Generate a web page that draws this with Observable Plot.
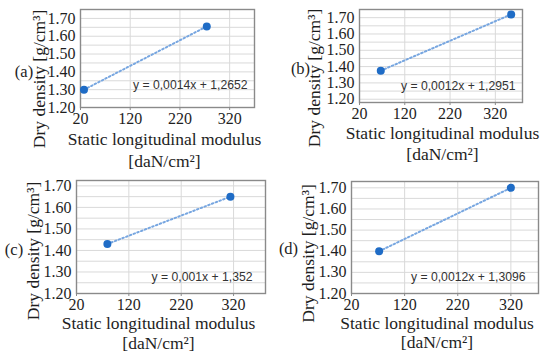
<!DOCTYPE html>
<html>
<head>
<meta charset="utf-8">
<script src="https://cdn.jsdelivr.net/npm/d3@7"></script>
<script src="https://cdn.jsdelivr.net/npm/@observablehq/plot@0.6"></script>
<style>
  html, body { margin: 0; padding: 0; background: #fff; }
  #chart { position: relative; width: 550px; height: 356px; overflow: hidden; }
  #chart svg { position: absolute; }
  #chart svg text { font-family: "Liberation Serif", "Times New Roman", serif; }
  #chart svg text.eq, #chart svg .eq text { font-family: "Liberation Sans", Arial, sans-serif; }
</style>
</head>
<body>
<div id="chart"></div>
<script>
// ---- data ----
const panelLabels = ["(a)", "(b)", "(c)", "(d)"];
const modulusA = [27, 274];
const densityA = [1.30, 1.655];
const modulusB = [67, 355];
const densityB = [1.375, 1.72];
const modulusC = [79, 314];
const densityC = [1.43, 1.65];
const modulusD = [72, 320];
const densityD = [1.40, 1.70];
const equations = [
  "y = 0,0014x + 1,2652",
  "y = 0,0012x + 1,2951",
  "y = 0,001x + 1,352",
  "y = 0,0012x + 1,3096"
];
const xTickValues = [20, 120, 220, 320];
const yTickValues = [1.20, 1.30, 1.40, 1.50, 1.60, 1.70];
const yGridValues = [1.20, 1.25, 1.30, 1.35, 1.40, 1.45, 1.50, 1.55, 1.60, 1.65, 1.70, 1.75];
const yTitle = "Dry density [g/cm³]";
const xTitleLine1 = "Static longitudinal modulus";
const xTitleLine2 = "[daN/cm²]";

const series = [
  {mod: modulusA, den: densityA},
  {mod: modulusB, den: densityB},
  {mod: modulusC, den: densityC},
  {mod: modulusD, den: densityD}
];

// ---- layout (positions / sizes) ----
const layout = [
  {left: 0,   top: 0,   ml: 80, mr: 21, mt: 9, mb: 71, xMax: 370, yMin: 1.20, yMax: 1.75,
   yt: [-41, 20.5], pl: [-56.5, 13], xt: [-3, 32, 54], eq: [-7, -22]},
  {left: 275, top: 0,   ml: 84, mr: 28, mt: 9, mb: 76, xMax: 380, yMin: 1.18, yMax: 1.75,
   yt: [-45, 22], pl: [-59, 12.5], xt: [1.5, 31, 52], eq: [-7, -16]},
  {left: 0,   top: 178, ml: 76, mr: 10, mt: 2, mb: 63, xMax: 381, yMin: 1.20, yMax: 1.725,
   yt: [-43, 14], pl: [-62.5, 12.5], xt: [-12.5, 30, 50], eq: [-13, -16]},
  {left: 275, top: 178, ml: 76, mr: 12, mt: 3, mb: 63, xMax: 372, yMin: 1.20, yMax: 1.73,
   yt: [-43, 16], pl: [-63, 11], xt: [-8, 30, 49], eq: [-13, -16]}
];

const serif = "Liberation Serif";
const sans = "Liberation Sans";
const textColor = "#1e1e1e";

const chart = document.getElementById("chart");

series.forEach((s, i) => {
  const L = layout[i];
  const pts = s.mod.map((m, j) => ({x: m, y: s.den[j]}));
  const gridY = yGridValues.filter(v => v >= L.yMin - 1e-9 && v <= L.yMax + 1e-9);
  const svg = Plot.plot({
    width: 275,
    height: 178,
    marginLeft: L.ml,
    marginRight: L.mr,
    marginTop: L.mt,
    marginBottom: L.mb,
    style: {background: "transparent", fontFamily: serif, color: textColor, overflow: "visible"},
    x: {domain: [20, L.xMax]},
    y: {domain: [L.yMin, L.yMax]},
    marks: [
      Plot.gridY(gridY, {stroke: "#d9d9d9", strokeOpacity: 1, strokeWidth: 1}),
      Plot.gridX(xTickValues, {stroke: "#d9d9d9", strokeOpacity: 1, strokeWidth: 1}),
      Plot.frame({stroke: "#8a8a8a", strokeWidth: 1.4}),
      Plot.axisX(xTickValues, {
        tickSize: 3, tickPadding: 2.5, stroke: "#8a8a8a", fontSize: 16,
        fontFamily: serif, fill: textColor, label: null, tickFormat: d => String(d)
      }),
      Plot.axisY(yTickValues, {
        tickSize: 0, tickPadding: 5, fontSize: 16, fontFamily: serif, fill: textColor,
        label: null, tickFormat: d => d.toFixed(2)
      }),
      Plot.line(pts, {x: "x", y: "y", stroke: "#77a6e0", strokeWidth: 2, strokeDasharray: "1.6,2.4"}),
      Plot.dot(pts, {x: "x", y: "y", r: 4, fill: "#1f6cc6", stroke: "none"}),
      Plot.text([equations[i]], {
        frameAnchor: "bottom-right", textAnchor: "end", lineAnchor: "middle",
        dx: L.eq[0], dy: L.eq[1], fontSize: 12.2, fill: "#333",
        fontFamily: sans, className: "eq"
      }),
      Plot.text([yTitle], {
        frameAnchor: "left", rotate: -90, textAnchor: "middle", lineAnchor: "middle",
        dx: L.yt[0], dy: L.yt[1], fontSize: 17.5, fill: textColor, fontFamily: serif
      }),
      Plot.text([panelLabels[i]], {
        frameAnchor: "left", textAnchor: "middle", lineAnchor: "middle",
        dx: L.pl[0], dy: L.pl[1], fontSize: 16.5, fill: textColor, fontFamily: serif
      }),
      Plot.text([xTitleLine1], {
        frameAnchor: "bottom", textAnchor: "middle", lineAnchor: "middle",
        dx: L.xt[0], dy: L.xt[1], fontSize: 17.5, fill: textColor, fontFamily: serif
      }),
      Plot.text([xTitleLine2], {
        frameAnchor: "bottom", textAnchor: "middle", lineAnchor: "middle",
        dx: L.xt[0], dy: L.xt[2], fontSize: 17.5, fill: textColor, fontFamily: serif
      })
    ]
  });
  svg.style.left = L.left + "px";
  svg.style.top = L.top + "px";
  chart.appendChild(svg);
});
</script>
</body>
</html>
